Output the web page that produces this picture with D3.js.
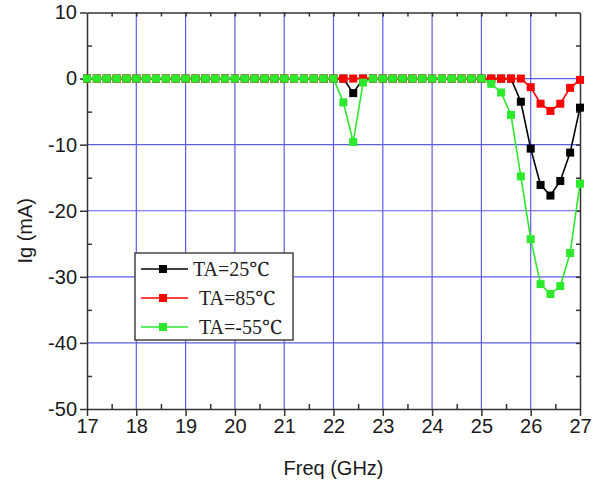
<!DOCTYPE html>
<html>
<head>
<meta charset="utf-8">
<script src="https://cdn.jsdelivr.net/npm/d3@7"></script>
<style>
  body { margin: 0; background: #fff; }
  text { font-family: Arial, "Liberation Sans", sans-serif; }
</style>
</head>
<body>
<svg id="chart"></svg>
<script>
const WIDTH = 597
const HEIGHT = 484
const MARGIN = { top: 12.5, right: 17, bottom: 75, left: 87 }

const FREQ = [
    17.0, 17.2, 17.4, 17.6, 17.8, 18.0, 18.2, 18.4, 18.6, 18.8,
    19.0, 19.2, 19.4, 19.6, 19.8, 20.0, 20.2, 20.4, 20.6, 20.8,
    21.0, 21.2, 21.4, 21.6, 21.8, 22.0, 22.2, 22.4, 22.6, 22.8,
    23.0, 23.2, 23.4, 23.6, 23.8, 24.0, 24.2, 24.4, 24.6, 24.8,
    25.0, 25.2, 25.4, 25.6, 25.8, 26.0, 26.2, 26.4, 26.6, 26.8,
    27.0
]

const IG_25 = [
    0, 0, 0, 0, 0, 0, 0, 0, 0, 0,
    0, 0, 0, 0, 0, 0, 0, 0, 0, 0,
    0, 0, 0, 0, 0, 0, 0, -2.2, 0, 0,
    0, 0, 0, 0, 0, 0, 0, 0, 0, 0,
    0, 0, 0, 0, -3.5, -10.6, -16.1, -17.7, -15.5, -11.2,
    -4.4
]

const IG_85 = [
    0, 0, 0, 0, 0, 0, 0, 0, 0, 0,
    0, 0, 0, 0, 0, 0, 0, 0, 0, 0,
    0, 0, 0, 0, 0, 0, 0, 0, 0, 0,
    0, 0, 0, 0, 0, 0, 0, 0, 0, 0,
    0, 0, 0, 0, 0, -1.3, -3.8, -4.9, -3.8, -1.4,
    -0.2
]

const IG_M55 = [
    0, 0, 0, 0, 0, 0, 0, 0, 0, 0,
    0, 0, 0, 0, 0, 0, 0, 0, 0, 0,
    0, 0, 0, 0, 0, 0, -3.6, -9.6, -0.6, 0,
    0, 0, 0, 0, 0, 0, 0, 0, 0, 0,
    0, -0.8, -2.1, -5.5, -14.8, -24.3, -31.1, -32.6, -31.4, -26.4,
    -15.9
]

const SERIES = [
    { name: 'TA=25℃', values: IG_25, color: '#000000' },
    { name: 'TA=85℃', values: IG_85, color: '#ff0000' },
    { name: 'TA=-55℃', values: IG_M55, color: '#2ee82e' }
]

const X_TICKS = [17, 18, 19, 20, 21, 22, 23, 24, 25, 26, 27]
const Y_TICKS = [10, 0, -10, -20, -30, -40, -50]

const GRID_COLOR = '#5c5ce8'
const AXIS_COLOR = '#333'
const MARKER = 8

const svg = d3.select('#chart')
    .attr('width', WIDTH)
    .attr('height', HEIGHT)

const x = d3.scaleLinear().domain([17, 27]).range([MARGIN.left, WIDTH - MARGIN.right])
const y = d3.scaleLinear().domain([-50, 10]).range([HEIGHT - MARGIN.bottom, MARGIN.top])

// grid
svg.append('g')
    .selectAll('line')
    .data(X_TICKS.slice(1, -1))
    .join('line')
    .attr('x1', d => x(d)).attr('x2', d => x(d))
    .attr('y1', y(10)).attr('y2', y(-50))
    .attr('stroke', GRID_COLOR).attr('stroke-width', 1.2)

svg.append('g')
    .selectAll('line')
    .data(Y_TICKS.slice(1, -1))
    .join('line')
    .attr('y1', d => y(d)).attr('y2', d => y(d))
    .attr('x1', x(17)).attr('x2', x(27))
    .attr('stroke', GRID_COLOR).attr('stroke-width', 1.2)

// axes: major ticks outward, minor ticks inward
const styleAxis = g => {
    g.selectAll('path, line').attr('stroke', AXIS_COLOR).attr('stroke-width', 1.5)
    g.selectAll('text').attr('fill', '#1a1a1a').style('font-size', '20px')
}
const plain = d => String(d)

svg.append('g')
    .attr('transform', `translate(0,${y(-50)})`)
    .call(d3.axisBottom(x).tickValues(X_TICKS).tickFormat(plain).tickSize(7).tickSizeOuter(0).tickPadding(3))
    .call(styleAxis)

svg.append('g')
    .attr('transform', `translate(0,${y(-50)})`)
    .call(d3.axisTop(x).tickValues(d3.range(17.5, 27, 1)).tickFormat('').tickSize(5).tickSizeOuter(0))
    .call(g => g.select('.domain').remove())
    .call(styleAxis)

svg.append('g')
    .attr('transform', `translate(${x(17)},0)`)
    .call(d3.axisLeft(y).tickValues(Y_TICKS).tickFormat(plain).tickSize(7).tickSizeOuter(0).tickPadding(3))
    .call(styleAxis)

svg.append('g')
    .attr('transform', `translate(${x(17)},0)`)
    .call(d3.axisRight(y).tickValues([5, -5, -15, -25, -35, -45]).tickFormat('').tickSize(5).tickSizeOuter(0))
    .call(g => g.select('.domain').remove())
    .call(styleAxis)

svg.append('g')
    .attr('transform', `translate(0,${y(10)})`)
    .call(d3.axisBottom(x).tickValues(d3.range(17.5, 27, 0.5)).tickFormat('').tickSize(4).tickSizeOuter(0))
    .call(styleAxis)

svg.append('g')
    .attr('transform', `translate(${x(27)},0)`)
    .call(d3.axisLeft(y).tickValues(d3.range(5, -50, -5)).tickFormat('').tickSize(4).tickSizeOuter(0))
    .call(styleAxis)

// axis titles
svg.append('text')
    .attr('x', (x(17) + x(27)) / 2)
    .attr('y', 475)
    .attr('text-anchor', 'middle')
    .style('font-size', '20px')
    .attr('fill', '#1a1a1a')
    .text('Freq (GHz)')

svg.append('text')
    .attr('transform', `translate(32,${(y(10) + y(-50)) / 2 + 20}) rotate(-90)`)
    .attr('text-anchor', 'middle')
    .style('font-size', '20px')
    .attr('fill', '#1a1a1a')
    .text('Ig (mA)')

// series
const line = d3.line().x((d, i) => x(FREQ[i])).y(d => y(d))

SERIES.forEach(s => {
    const g = svg.append('g')
    g.append('path')
        .attr('d', line(s.values))
        .attr('fill', 'none')
        .attr('stroke', s.color)
        .attr('stroke-width', 1.6)
    g.selectAll('rect')
        .data(s.values)
        .join('rect')
        .attr('x', (d, i) => x(FREQ[i]) - MARKER / 2)
        .attr('y', d => y(d) - MARKER / 2)
        .attr('width', MARKER)
        .attr('height', MARKER)
        .attr('fill', s.color)
})

// legend
const legend = svg.append('g').attr('transform', 'translate(135,253)')
legend.append('rect')
    .attr('width', 158).attr('height', 87)
    .attr('fill', '#fff')
    .attr('stroke', '#444').attr('stroke-width', 1.5)

SERIES.forEach((s, i) => {
    const row = legend.append('g').attr('transform', `translate(0,${16 + i * 29})`)
    row.append('line')
        .attr('x1', 6).attr('x2', 53)
        .attr('stroke', s.color).attr('stroke-width', 1.6)
    row.append('rect')
        .attr('x', 28 - MARKER / 2).attr('y', -MARKER / 2)
        .attr('width', MARKER).attr('height', MARKER)
        .attr('fill', s.color)
    row.append('text')
        .attr('x', i === 0 ? 58 : 64)
        .attr('y', 7)
        .style('font-family', '"Liberation Serif", "Noto Serif", serif')
        .style('font-size', '20px')
        .attr('fill', '#222')
        .text(s.name)
})
</script>
</body>
</html>
